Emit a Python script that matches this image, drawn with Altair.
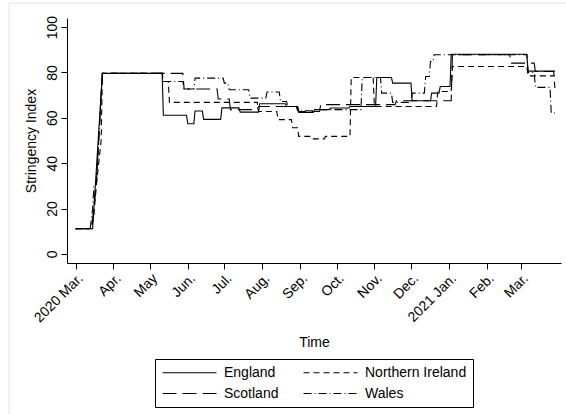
import altair as alt
import pandas as pd

# ---------------- data (day offsets from 2020-03-01, polyline vertices) ----------------
regions = ["England", "Scotland", "Northern Ireland", "Wales"]
dashes = [[1, 0], [14, 6], [6, 4], [8, 3, 1, 3]]

england_days = [0, 14, 22, 71, 72, 91, 92, 97, 98, 104, 105, 119, 120, 134, 135, 150, 151, 172, 173, 182,
                183, 195, 196, 208, 209, 224, 225, 246, 247, 259, 260, 275, 276, 291, 292, 298, 299, 307,
                308, 370, 371, 393]
england_vals = [11.1, 11.1, 79.6, 79.6, 61.1, 61.1, 57.4, 57.4, 63.0, 63.0, 59.3, 59.3, 64.4, 64.4, 62.5,
                62.5, 66.2, 66.2, 65.0, 65.0, 62.4, 62.4, 63.6, 63.6, 64.3, 64.3, 65.0, 65.0, 77.8, 77.8,
                75.3, 75.3, 67.5, 67.5, 70.9, 70.9, 73.8, 73.8, 88.0, 88.0, 80.6, 80.6]

ni_days = [0, 13, 15, 17, 21, 22, 71, 72, 76, 77, 149, 150, 165, 166, 177, 178, 182, 183, 192, 193, 204,
           205, 225, 226, 244, 245, 296, 297, 308, 309, 370, 371, 393]
ni_vals = [11.1, 11.1, 16.7, 30.0, 50.0, 79.6, 79.6, 76.0, 76.0, 66.8, 66.8, 62.8, 62.8, 59.2, 59.2, 55.6,
           55.6, 51.8, 51.8, 50.7, 50.7, 51.8, 51.8, 77.8, 77.8, 65.0, 65.0, 71.6, 71.6, 82.6, 82.6, 78.5,
           78.5]

scotland_days = [0, 13, 16, 17, 22, 88, 89, 116, 117, 126, 127, 149, 150, 182, 183, 200, 201, 262, 263,
                 308, 309, 356, 357, 376, 377, 392, 393]
scotland_vals = [11.1, 11.1, 25.0, 30.0, 79.6, 79.6, 72.7, 72.7, 68.3, 68.3, 63.6, 63.6, 65.0, 65.0, 62.8,
                 62.8, 65.8, 65.8, 67.5, 67.5, 87.8, 87.8, 84.1, 84.1, 80.4, 80.4, 73.1]

wales_days = [0, 12, 14, 15, 17, 22, 71, 72, 88, 89, 97, 98, 121, 122, 125, 126, 142, 143, 156, 157, 167,
              168, 173, 174, 181, 182, 196, 197, 234, 235, 250, 251, 259, 260, 275, 276, 286, 287, 290,
              291, 293, 294, 370, 371, 376, 377, 389, 390, 393]
wales_vals = [11.1, 11.1, 20.0, 29.6, 30.0, 79.6, 79.6, 76.0, 76.0, 72.7, 72.7, 77.5, 77.5, 75.3, 75.3,
              72.4, 72.4, 68.7, 68.7, 71.4, 71.4, 67.2, 67.2, 65.0, 65.0, 63.1, 63.1, 63.6, 63.6, 77.8,
              77.8, 70.9, 70.9, 66.8, 66.8, 70.9, 70.9, 78.2, 78.2, 84.8, 84.8, 87.8, 87.8, 80.0, 80.0,
              73.4, 73.4, 62.1, 62.1]

month_starts = ["2020-03-01", "2020-04-01", "2020-05-01", "2020-06-01", "2020-07-01", "2020-08-01",
                "2020-09-01", "2020-10-01", "2020-11-01", "2020-12-01", "2021-01-01", "2021-02-01",
                "2021-03-01"]
month_labels = ["2020 Mar.", "Apr.", "May", "Jun.", "Jul.", "Aug.", "Sep.", "Oct.", "Nov.", "Dec.",
                "2021 Jan.", "Feb.", "Mar."]
y_ticks = [0, 20, 40, 60, 80, 100]

# ---------------- build table ----------------
origin = pd.Timestamp("2020-03-01")
tick_days = [int((pd.Timestamp(d) - origin).days) for d in month_starts]

frames = []
for name, d, v in [("England", england_days, england_vals),
                   ("Northern Ireland", ni_days, ni_vals),
                   ("Scotland", scotland_days, scotland_vals),
                   ("Wales", wales_days, wales_vals)]:
    frames.append(pd.DataFrame({"day": d, "value": v, "region": name, "order": range(len(d))}))
df = pd.concat(frames, ignore_index=True)

label_expr = "{}[indexof({}, datum.value)]".format(
    "[" + ",".join("'" + s + "'" for s in month_labels) + "]",
    "[" + ",".join(str(t) for t in tick_days) + "]")

FONT = "Liberation Sans"

lines = alt.Chart(df).mark_line(color="black", strokeWidth=1.1, interpolate="linear").encode(
    x=alt.X("day:Q",
            scale=alt.Scale(domain=[-7, 398], nice=False, zero=False),
            axis=alt.Axis(values=tick_days, labelExpr=label_expr, labelAngle=-45, title="Time",
                          grid=False, tickSize=6, labelPadding=2, titlePadding=11,
                          labelOverlap=False, labelBound=False, labelFlush=False)),
    y=alt.Y("value:Q",
            scale=alt.Scale(domain=[-4, 104], nice=False, zero=False),
            axis=alt.Axis(values=y_ticks, labelAngle=-90, title="Stringency Index", grid=False,
                          tickSize=6, labelPadding=2, titlePadding=7, labelOverlap=False)),
    strokeDash=alt.StrokeDash("region:N",
                              sort=regions,
                              scale=alt.Scale(domain=regions, range=dashes),
                              legend=alt.Legend(title=None, orient="none", legendX=88, legendY=341,
                                                columns=2, symbolType="M-4,0H4", symbolSize=182,
                                                symbolOffset=21, labelOffset=27,
                                                symbolStrokeColor="black", symbolStrokeWidth=1.1,
                                                symbolFillColor="transparent",
                                                strokeColor="black", padding=6, columnPadding=22,
                                                rowPadding=6, labelFontSize=14, labelFont=FONT,
                                                labelColor="black", fillColor="white")),
    detail="region:N",
    order="order:Q",
)

frame = alt.Chart(pd.DataFrame({"f": [0]})).mark_rect(
    fillOpacity=0, stroke="#e4e4e4", strokeWidth=1
).encode(x=alt.value(-58), x2=alt.value(520), y=alt.value(-15), y2=alt.value(420))

chart = alt.layer(frame, lines).properties(
    width=494, height=245,
    autosize=alt.AutoSizeParams(type="none"),
    padding={"left": 67, "top": 18, "right": 5, "bottom": 151},
    background="white",
).configure_view(stroke=None).configure_axis(
    labelFont=FONT, titleFont=FONT, labelFontSize=14, titleFontSize=14, titleFontWeight="normal",
    labelColor="black", titleColor="black", domainColor="black", tickColor="black",
    domainWidth=1, tickWidth=1,
)

chart.save("out.html", embed_options={"renderer": "svg", "actions": False})
